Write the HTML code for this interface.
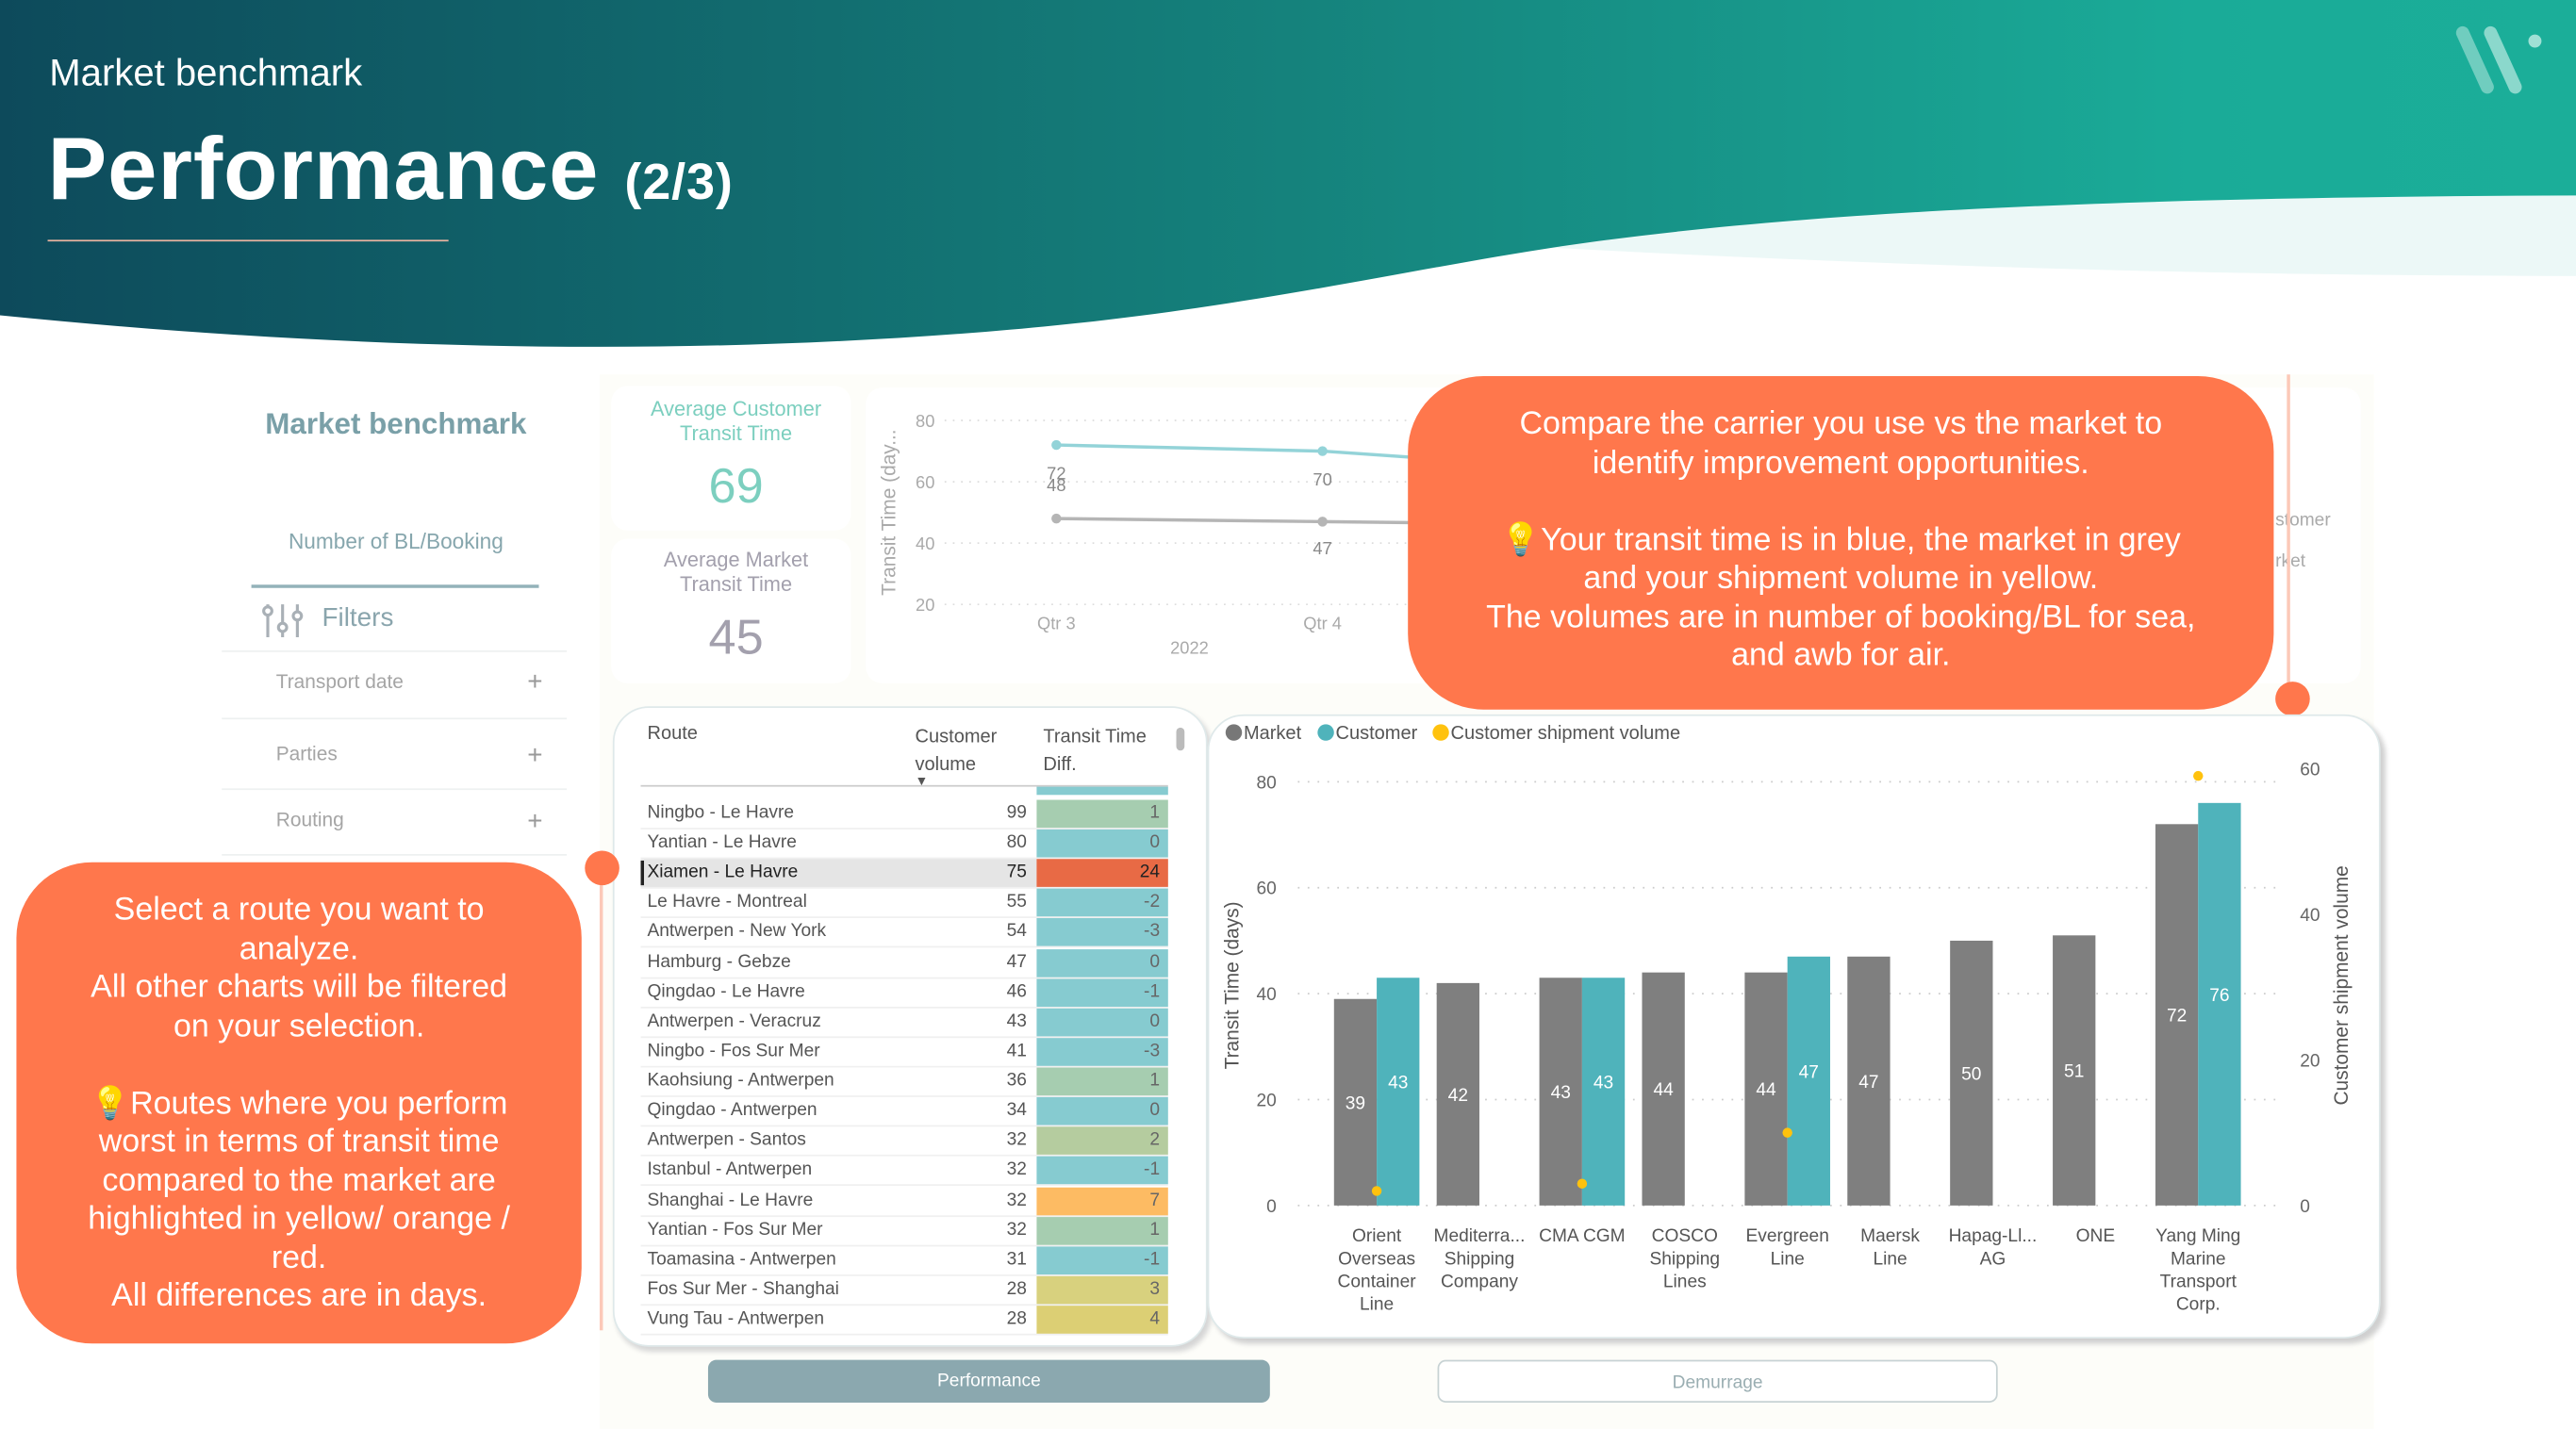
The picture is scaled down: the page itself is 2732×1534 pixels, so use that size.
<!DOCTYPE html>
<html><head><meta charset="utf-8">
<style>
html,body{margin:0;padding:0;width:2732px;height:1534px;overflow:hidden;background:#fff;}
#stage{position:absolute;left:0;top:0;width:1568px;height:880px;transform:scale(1.74235);transform-origin:0 0;font-family:"Liberation Sans",sans-serif;}
.abs{position:absolute;}
.callout{position:absolute;background:#ff774c;color:#fff;border-radius:46px;text-align:center;font-size:19.5px;line-height:23.5px;box-sizing:border-box;}
.card{position:absolute;background:#fff;border-radius:10px;}
.flt{position:absolute;left:168px;font-size:12px;color:#a5a5a5;}
.plus{position:absolute;left:321px;font-size:16px;color:#999;}
.sep{position:absolute;left:135px;width:210px;height:1px;background:#eef1f1;}
</style></head><body>
<div id="stage">
<svg class="abs" style="left:0;top:0" width="1568" height="240">
<defs><linearGradient id="hg" x1="0" x2="1" y1="0" y2="0"><stop offset="0" stop-color="#0d4a5b"/><stop offset="0.5" stop-color="#15827c"/><stop offset="0.85" stop-color="#1aab98"/><stop offset="1" stop-color="#1bae99"/></linearGradient></defs>
<path d="M900,100 H1568 V168 C1350,168 1150,162 930,150 Z" fill="#ecf8f7"/>
<path d="M0,0 H1568 V119 C1300,120 1100,128 950,150 C850,165 750,190 600,202 C400,218 200,212 0,192 Z" fill="url(#hg)"/>
</svg>
<div class="abs" style="left:30px;top:31px;font-size:23px;color:#fff;">Market benchmark</div>
<div class="abs" style="left:29px;top:72px;font-size:54px;font-weight:bold;color:#fff;letter-spacing:0.5px;">Performance <span style="font-size:31px;">(2/3)</span></div>
<div class="abs" style="left:29px;top:146px;width:244px;height:1px;background:#e7b3a0;"></div>
<svg class="abs" style="left:1494px;top:15px" width="60" height="45">
<path d="M5,5 L20,38" stroke="#7fd3c6" stroke-width="8" stroke-linecap="round" opacity="0.85"/>
<path d="M22,5 L37,38" stroke="#9fe0d5" stroke-width="8" stroke-linecap="round" opacity="0.85"/>
<circle cx="49" cy="10" r="4" fill="#9fe0d5"/>
</svg>

<div class="abs" style="left:365px;top:228px;width:1080px;height:642px;background:#fdfdf9;"></div>

<div class="abs" style="left:130px;top:237px;width:220px;height:285px;background:#fff;"></div>
<div class="abs" style="left:130px;top:248px;width:222px;text-align:center;font-size:18px;font-weight:bold;color:#7aa0a8;">Market benchmark</div>
<div class="abs" style="left:130px;top:322px;width:222px;text-align:center;font-size:13px;color:#86a6ad;">Number of BL/Booking</div>
<div class="abs" style="left:153px;top:356px;width:175px;height:2px;background:#93b2b9;"></div>
<svg class="abs" style="left:158px;top:366px" width="28" height="24"><g stroke="#a9b0b6" stroke-width="1.8" fill="none"><line x1="5" y1="2" x2="5" y2="22"/><circle cx="5" cy="6" r="2.5" fill="#fff"/><line x1="14" y1="2" x2="14" y2="22"/><circle cx="14" cy="16" r="2.5" fill="#fff"/><line x1="23" y1="2" x2="23" y2="22"/><circle cx="23" cy="9" r="2.5" fill="#fff"/></g></svg>
<div class="abs" style="left:196px;top:368px;font-size:16px;color:#8aa5ad;">Filters</div>
<div class="sep" style="top:396px;"></div>
<div class="flt" style="top:408px;">Transport date</div><div class="plus" style="top:407px;">+</div>
<div class="sep" style="top:437px;"></div>
<div class="flt" style="top:452px;">Parties</div><div class="plus" style="top:452px;">+</div>
<div class="sep" style="top:480px;"></div>
<div class="flt" style="top:492px;">Routing</div><div class="plus" style="top:492px;">+</div>
<div class="sep" style="top:520px;"></div>

<div class="card" style="left:372px;top:235px;width:146px;height:88px;"></div>
<div class="abs" style="left:372px;top:242px;width:152px;text-align:center;font-size:12.5px;line-height:15px;color:#7ccfbf;">Average Customer<br>Transit Time</div>
<div class="abs" style="left:372px;top:280px;width:152px;text-align:center;font-size:30px;color:#7ccfbf;">69</div>
<div class="card" style="left:372px;top:328px;width:146px;height:88px;"></div>
<div class="abs" style="left:372px;top:334px;width:152px;text-align:center;font-size:12.5px;line-height:15px;color:#a3a0ad;">Average Market<br>Transit Time</div>
<div class="abs" style="left:372px;top:372px;width:152px;text-align:center;font-size:30px;color:#a3a0ad;">45</div>

<div class="card" style="left:527px;top:236px;width:910px;height:180px;"></div>
<svg id="lineChart" class="abs" style="left:0;top:0" width="1568" height="440"></svg>
<div class="abs" style="left:1385px;top:311px;font-size:11px;color:#aaa;">stomer</div>
<div class="abs" style="left:1385px;top:336px;font-size:11px;color:#aaa;">rket</div>

<div class="abs" style="left:1392px;top:228px;width:2px;height:197px;background:#fcc9b8;"></div>
<div class="abs" style="left:1385px;top:415px;width:21px;height:21px;border-radius:50%;background:#ff774c;"></div>
<div class="callout" style="left:857px;top:229px;width:527px;height:203px;padding-top:18px;">Compare the carrier you use vs the market to<br>identify improvement opportunities.<br><br>💡Your transit time is in blue, the market in grey<br>and your shipment volume in yellow.<br>The volumes are in number of booking/BL for sea,<br>and awb for air.</div>

<div class="abs" style="left:373px;top:430px;width:360px;height:388px;background:#fff;border-radius:22px;border:1.5px solid #dfe9ea;box-shadow:2px 3px 3px #d6d6d6;"></div>
<div class="abs" style="left:394px;top:441px;font-size:11.5px;color:#555;">Route</div>
<div class="abs" style="left:557px;top:441px;font-size:11.5px;line-height:17px;color:#555;">Customer<br>volume<br><span style="font-size:8px;position:relative;top:-8px;">▼</span></div>
<div class="abs" style="left:635px;top:441px;font-size:11.5px;line-height:17px;color:#555;">Transit Time<br>Diff.</div>
<div class="abs" style="left:716px;top:443px;width:5px;height:14px;border-radius:3px;background:#bbb;"></div>
<div class="abs" style="left:390px;top:478px;width:321px;height:1px;background:#ccc;"></div>
<div class="abs" style="left:631px;top:479px;width:80px;height:5px;background:#86cbd0;"></div>
<div id="tbody"></div>

<div class="abs" style="left:365px;top:532px;width:2px;height:278px;background:#fcc9b8;"></div>
<div class="abs" style="left:356px;top:518px;width:21px;height:21px;border-radius:50%;background:#ff774c;"></div>
<div class="callout" style="left:10px;top:525px;width:344px;height:293px;padding-top:18px;">Select a route you want to<br>analyze.<br>All other charts will be filtered<br>on your selection.<br><br>💡Routes where you perform<br>worst in terms of transit time<br>compared to the market are<br>highlighted in yellow/ orange /<br>red.<br>All differences are in days.</div>

<div class="abs" style="left:735px;top:435px;width:712px;height:378px;background:#fff;border-radius:22px;border:1.5px solid #dfe9ea;box-shadow:3px 3px 3px #d0d0d0;"></div>
<svg id="barChart" class="abs" style="left:735px;top:435px" width="715" height="380"></svg>

<div class="abs" style="left:431px;top:828px;width:342px;height:26px;border-radius:5px;background:#8ba8af;color:#fff;font-size:11px;text-align:center;line-height:26px;">Performance</div>
<div class="abs" style="left:875px;top:828px;width:339px;height:24px;border-radius:5px;border:1px solid #c7d2d4;background:#fff;color:#9aaeb2;font-size:11px;text-align:center;line-height:26px;">Demurrage</div>
</div>

<script>
const NS='http://www.w3.org/2000/svg';
function mk(p,tag,attrs,txt){const e=document.createElementNS(NS,tag);for(const k in attrs)e.setAttribute(k,attrs[k]);if(txt!==undefined)e.textContent=txt;p.appendChild(e);return e;}

// ---- line chart data
const quarters=['Qtr 3','Qtr 4','Qtr 1'];
const custTrend=[72,70,64];
const marketTrend=[48,47,46];
const lineTicks=[20,40,60,80];
(function(){
  const s=document.getElementById('lineChart');
  const y=v=>368-(v-20)*(112/60);
  const xq=i=>643+i*162;
  lineTicks.forEach(t=>{
    const tx=mk(s,'text',{x:569,y:y(t)+4,'text-anchor':'end','font-size':10.5,fill:'#aaa','font-family':'Liberation Sans'},t);
    
    const g=mk(s,'line',{x1:575,x2:860,y1:y(t),y2:y(t),stroke:'#ddd','stroke-dasharray':'1 4'});
    
  });
  const at=mk(s,'text',{transform:'translate(545,312) rotate(-90)','text-anchor':'middle','font-size':12,fill:'#aaa','font-family':'Liberation Sans'},'Transit Time (day...');
  
  [[custTrend,'#93d3d8'],[marketTrend,'#b5b5b5']].forEach(([d,c],si)=>{
    const pts=d.map((v,i)=>xq(i)+','+y(v)).join(' ');
    const pl=mk(s,'polyline',{points:pts,fill:'none',stroke:c,'stroke-width':2});
    
    d.forEach((v,i)=>{if(i>1)return;
      const c1=mk(s,'circle',{cx:xq(i),cy:y(v),r:3,fill:c});
      
      const ly=si? (i==0? y(custTrend[0])+28 : y(v)+20) : y(v)+21;
      const lb=mk(s,'text',{x:xq(i),y:ly,'text-anchor':'middle','font-size':10.5,fill:'#888','font-family':'Liberation Sans'},v);
      
    });
  });
  quarters.slice(0,2).forEach((q,i)=>{const t=mk(s,'text',{x:xq(i),y:383,'text-anchor':'middle','font-size':10.5,fill:'#aaa','font-family':'Liberation Sans'},q);
    });
  const yr=mk(s,'text',{x:724,y:398,'text-anchor':'middle','font-size':10.5,fill:'#aaa','font-family':'Liberation Sans'},'2022');
  
})();

// ---- table data
const routes=['Ningbo - Le Havre','Yantian - Le Havre','Xiamen - Le Havre','Le Havre - Montreal','Antwerpen - New York','Hamburg - Gebze','Qingdao - Le Havre','Antwerpen - Veracruz','Ningbo - Fos Sur Mer','Kaohsiung - Antwerpen','Qingdao - Antwerpen','Antwerpen - Santos','Istanbul - Antwerpen','Shanghai - Le Havre','Yantian - Fos Sur Mer','Toamasina - Antwerpen','Fos Sur Mer - Shanghai','Vung Tau - Antwerpen'];
const volumes=[99,80,75,55,54,47,46,43,41,36,34,32,32,32,32,31,28,28];
const diffs=[1,0,24,-2,-3,0,-1,0,-3,1,0,2,-1,7,1,-1,3,4];
(function(){
  const tb=document.getElementById('tbody');
  const col=d=>d<=0?'#86cbd0':d==1?'#a6cdb0':d==2?'#b5cc9f':d==3?'#d8d17e':d==4?'#dccf74':d<10?'#fdbb63':'#e86a45';
  routes.forEach((r,i)=>{
    const top=487+i*18.12, sel=i==2;
    const row=document.createElement('div');
    
    
    row.style.cssText=`position:absolute;left:390px;top:${top}px;width:321px;height:17px;border-bottom:1px solid #f0f0f0;background:${sel?'#e5e5e5':'transparent'};font-size:11px;color:${sel?'#222':'#555'};line-height:17px;`;
    row.innerHTML=`<span style="position:absolute;left:4px;">${r}</span><span style="position:absolute;right:86px;">${volumes[i]}</span><span style="position:absolute;left:241px;width:80px;height:17px;background:${col(diffs[i])};text-align:right;box-sizing:border-box;padding-right:5px;color:${sel?'#222':'#666'}">${diffs[i]}</span>`;
    if(sel)row.innerHTML+='<span style="position:absolute;left:0;top:1px;width:2px;height:15px;background:#222"></span>';
    tb.appendChild(row);
  });
})();

// ---- bar chart data
const carriers=[['Orient','Overseas','Container','Line'],['Mediterra...','Shipping','Company'],['CMA CGM'],['COSCO','Shipping','Lines'],['Evergreen','Line'],['Maersk','Line'],['Hapag-Ll...','AG'],['ONE'],['Yang Ming','Marine','Transport','Corp.']];
const marketTT=[39,42,43,44,44,47,50,51,72];
const customerTT=[43,null,43,null,47,null,null,null,76];
const shipVolume=[2,null,3,null,10,null,null,null,59];
const leftTicks=[0,20,40,60,80];
const rightTicks=[0,20,40,60];
(function(){
  const s=document.getElementById('barChart');
  const ox=735, oy=435;
  const yL=v=>734-oy-v*(258/80);
  const yR=v=>734-oy-v*(266/60);
  const xc=i=>838-ox+i*62.5;
  const F='Liberation Sans';
  [['#777','Market',10],['#4fb3bb','Customer',66],['#ffc20e','Customer shipment volume',136]].forEach(([c,t,x])=>{
    const d=mk(s,'circle',{cx:x+6,cy:11,r:5,fill:c});
    const l=mk(s,'text',{x:x+12,y:15,'font-size':11.5,fill:'#555','font-family':F},t);
  });
  leftTicks.forEach(t=>{
    const g=mk(s,'line',{x1:55,x2:650,y1:yL(t),y2:yL(t),stroke:'#ccc','stroke-dasharray':'1 5'});
    
    const tx=mk(s,'text',{x:42,y:yL(t)+4,'text-anchor':'end','font-size':11,fill:'#666','font-family':F},t);
    
  });
  rightTicks.forEach(t=>{
    const tx=mk(s,'text',{x:665,y:yR(t)+4,'font-size':11,fill:'#666','font-family':F},t);
    
  });
  const lt=mk(s,'text',{transform:`translate(19,${600-oy}) rotate(-90)`,'text-anchor':'middle','font-size':12,fill:'#555','font-family':F},'Transit Time (days)');
  
  const rt=mk(s,'text',{transform:`translate(694,${600-oy}) rotate(-90)`,'text-anchor':'middle','font-size':12,fill:'#555','font-family':F},'Customer shipment volume');
  
  const bw=26;
  carriers.forEach((c,i)=>{
    const x=xc(i);
    const mv=marketTT[i];
    const b=mk(s,'rect',{x:x-bw,y:yL(mv),width:bw,height:yL(0)-yL(mv),fill:'#7f7f7f'});
    
    const bl=mk(s,'text',{x:x-bw/2,y:(yL(mv)+yL(0))/2+4,'text-anchor':'middle','font-size':11,fill:'#fff','font-family':F},mv);
    
    const cv=customerTT[i];
    if(cv!==null){
      const cb=mk(s,'rect',{x:x,y:yL(cv),width:bw,height:yL(0)-yL(cv),fill:'#4fb3bb'});
      
      const cl=mk(s,'text',{x:x+bw/2,y:(yL(cv)+yL(0))/2-2,'text-anchor':'middle','font-size':11,fill:'#fff','font-family':F},cv);
      
    }
    const sv=shipVolume[i];
    if(sv!==null){
      const d=mk(s,'circle',{cx:x,cy:yR(sv),r:3,fill:'#ffc20e'});
      
    }
    c.forEach((ln,j)=>{
      const t=mk(s,'text',{x:x,y:321+j*13.8,'text-anchor':'middle','font-size':11,fill:'#555','font-family':F},ln);
      
    });
  });
})();
</script>
</body></html>
